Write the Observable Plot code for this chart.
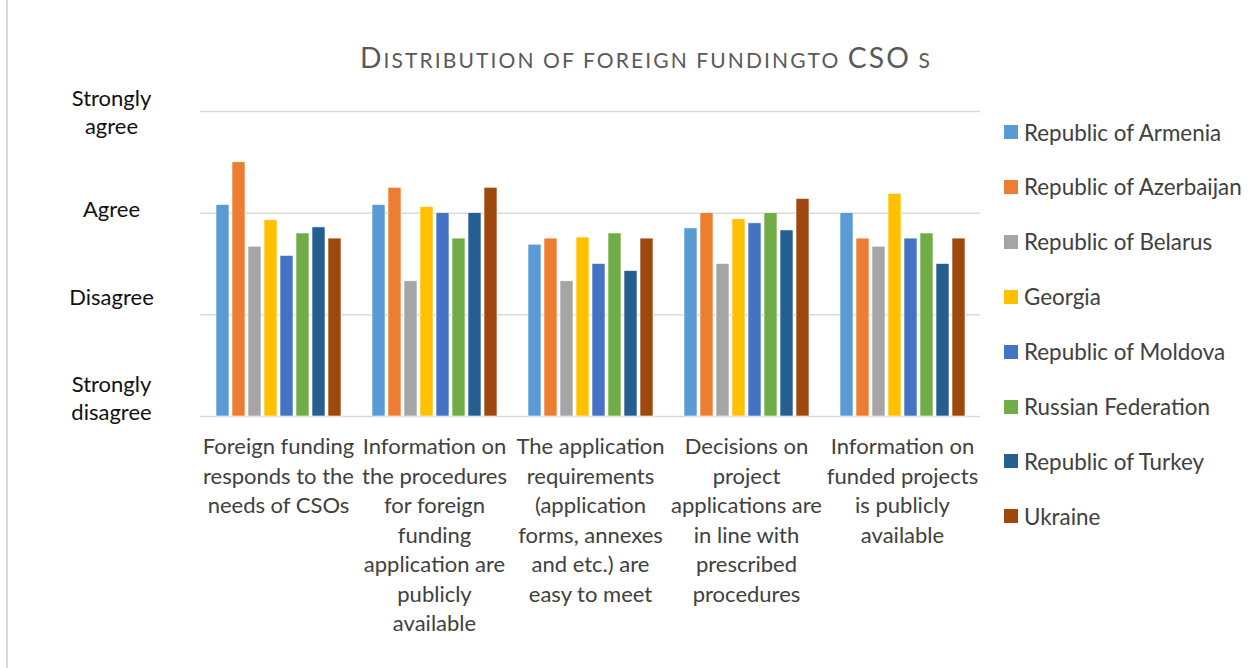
<!DOCTYPE html>
<html><head><meta charset="utf-8">
<script src="https://cdn.jsdelivr.net/npm/d3@7"></script>
<script src="https://cdn.jsdelivr.net/npm/@observablehq/plot@0.6"></script>
<style>
html,body{margin:0;padding:0;background:#fff;}
#wrap{position:relative;width:1248px;height:668px;overflow:hidden;font-family:Lato,sans-serif;background:#fff;}
#frame{position:absolute;left:6px;top:0;width:2px;height:668px;background:#d9d9d9;}
#title{position:absolute;left:246px;width:800px;top:40px;text-align:center;line-height:34px;color:#595959;white-space:pre;letter-spacing:2.1px;}
#title .big{font-size:28.3px;}
#title .small{font-size:21px;}
#chart{position:absolute;left:0;top:0;}
#legend{position:absolute;left:1004px;top:0;}
.item{position:absolute;left:0;white-space:nowrap;font-size:22.4px;color:#404040;display:flex;align-items:center;height:30px;}
.sw{width:14px;height:14px;margin-right:6px;flex:none;}
</style></head>
<body><div id="wrap"><div id="frame"></div><div id="title"></div><div id="chart"></div><div id="legend"></div></div>
<script>
const title = "Distribution of foreign fundingto CSO s";
const categories = [
  "Foreign funding\nresponds to the\nneeds of CSOs",
  "Information on\nthe procedures\nfor foreign\nfunding\napplication are\npublicly\navailable",
  "The application\nrequirements\n(application\nforms, annexes\nand etc.) are\neasy to meet",
  "Decisions on\nproject\napplications are\nin line with\nprescribed\nprocedures",
  "Information on\nfunded projects\nis publicly\navailable"
];
const countries = ["Republic of Armenia","Republic of Azerbaijan","Republic of Belarus","Georgia","Republic of Moldova","Russian Federation","Republic of Turkey","Ukraine"];
const colors = ["#5B9BD5","#ED7D31","#A5A5A5","#FFC000","#4472C4","#70AD47","#255E91","#9E480E"];
const armenia    = [3.08, 3.08, 2.69, 2.85, 3.00];
const azerbaijan = [3.50, 3.25, 2.75, 3.00, 2.75];
const belarus    = [2.67, 2.33, 2.33, 2.50, 2.67];
const georgia    = [2.93, 3.06, 2.76, 2.94, 3.19];
const moldova    = [2.58, 3.00, 2.50, 2.90, 2.75];
const russia     = [2.80, 2.75, 2.80, 3.00, 2.80];
const turkey     = [2.86, 3.00, 2.43, 2.83, 2.50];
const ukraine    = [2.75, 3.25, 2.75, 3.14, 2.75];
const yTicks = [1, 2, 3, 4];
const yLabels = ["Strongly\ndisagree", "Disagree", "Agree", "Strongly\nagree"];

const series = [armenia, azerbaijan, belarus, georgia, moldova, russia, turkey, ukraine];
const rows = [];
categories.forEach((c, i) => countries.forEach((k, j) => rows.push({category: c, country: k, value: series[j][i]})));
const labelOf = v => yLabels[yTicks.indexOf(v)];

// title in small caps: capitals full size, lower case as smaller capitals
const titleEl = document.getElementById("title");
for (const ch of title) {
  const s = document.createElement("span");
  const upper = ch !== ch.toLowerCase();
  s.className = upper ? "big" : "small";
  s.textContent = ch.toUpperCase();
  titleEl.appendChild(s);
}

const yAxisOpts = {anchor: "left", tickSize: 0, tickPadding: 89, textAnchor: "middle", fontSize: 22, lineHeight: 1.27, fill: "#111", label: null, tickFormat: labelOf};

const plot = Plot.plot({
  width: 1248, height: 668,
  marginLeft: 200, marginRight: 268, marginTop: 111, marginBottom: 252,
  style: {fontFamily: "Lato, sans-serif", background: "transparent"},
  fx: {domain: categories, padding: 0, label: null},
  x: {domain: countries, paddingInner: 0.1875, paddingOuter: 0.96875, axis: null},
  y: {domain: [yTicks[0], yTicks[yTicks.length - 1]], axis: null},
  color: {domain: countries, range: colors},
  marks: [
    Plot.ruleY(yTicks, {stroke: "#d9d9d9", strokeWidth: 1.5}),
    Plot.barY(rows, {fx: "category", x: "country", y1: yTicks[0], y2: "value", fill: "country", stroke: "#fff", strokeWidth: 0.6}),
    Plot.axisFx({anchor: "bottom", tickSize: 0, tickPadding: 17, fontSize: 22, lineHeight: 1.34, label: null, fill: "#404040", tickFormat: d => d}),
    Plot.axisY(yTicks.slice(3), {...yAxisOpts}),
    Plot.axisY(yTicks.slice(2, 3), {...yAxisOpts, dy: -5}),
    Plot.axisY(yTicks.slice(0, 2), {...yAxisOpts, dy: -19})
  ]
});
document.getElementById("chart").appendChild(plot);

const legend = document.getElementById("legend");
countries.forEach((k, j) => {
  const it = document.createElement("div");
  it.className = "item";
  it.style.top = (133 - 16 + j * 54.9) + "px";
  const sw = document.createElement("div");
  sw.className = "sw"; sw.style.background = colors[j];
  const tx = document.createElement("span"); tx.textContent = k;
  it.appendChild(sw); it.appendChild(tx);
  legend.appendChild(it);
});
</script></body></html>
